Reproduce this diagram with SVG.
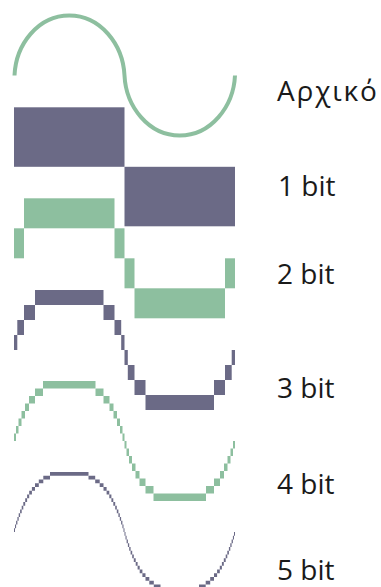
<svg xmlns="http://www.w3.org/2000/svg" xmlns:xlink="http://www.w3.org/1999/xlink" width="381" height="587" viewBox="0 0 381 587">
  <style>
    .green { fill: #8dbf9f; }
    .purple { fill: #6b6a86; }
    .wave { fill: none; stroke: #8dbf9f; stroke-width: 4; stroke-linecap: butt; }
    .label { font-family: "Open Sans", "Noto Sans", "DejaVu Sans", sans-serif; font-size: 28px; fill: #1a1a1a; }
  </style>
  <defs>
    <!-- Left staircase of one positive half-cycle, local coords: x 0..110.5, y 0 (mid) .. -60 (peak) -->
    <path id="st2" d="M0,-30H10V0H0Z"/>
    <path id="st3" d="M0,-15H3.3V0H0Z M3.3,-30H10V-15H3.3Z M10,-45H21V-30H10Z"/>
    <path id="st4" d="M0,-7.5H2V0H0Z M2,-15H4.5V-7.5H2Z M4.5,-22.5H7.5V-15H4.5Z M7.5,-30H11V-22.5H7.5Z M11,-37.5H15V-30H11Z M15,-45H21V-37.5H15Z M21,-52.5H29V-45H21Z"/>
    <path id="st5" d="M0,-3.75H1V0H0Z M1,-7.5H2.1V-3.75H1Z M2.1,-11.25H3.4V-7.5H2.1Z M3.4,-15H4.7V-11.25H3.4Z M4.7,-18.75H6.1V-15H4.7Z M6.1,-22.5H7.7V-18.75H6.1Z M7.7,-26.25H9.3V-22.5H7.7Z M9.3,-30H11.2V-26.25H9.3Z M11.2,-33.75H13.1V-30H11.2Z M13.1,-37.5H15.2V-33.75H13.1Z M15.2,-41.25H17.9V-37.5H15.2Z M17.9,-45H21V-41.25H17.9Z M21,-48.75H24.8V-45H21Z M24.8,-52.5H29.3V-48.75H24.8Z M29.3,-56.25H36V-52.5H29.3Z"/>

    <!-- Full positive half-cycles: staircase, its mirror, and the top bar -->
    <g id="h1"><rect x="0" y="-59.5" width="110.5" height="59.5"/></g>
    <g id="h2"><use xlink:href="#st2"/><use xlink:href="#st2" transform="matrix(-1 0 0 1 110.5 0)"/><rect x="10" y="-60" width="90.5" height="30"/></g>
    <g id="h3"><use xlink:href="#st3"/><use xlink:href="#st3" transform="matrix(-1 0 0 1 110.5 0)"/><rect x="21" y="-60" width="68.5" height="15"/></g>
    <g id="h4"><use xlink:href="#st4"/><use xlink:href="#st4" transform="matrix(-1 0 0 1 110.5 0)"/><rect x="29" y="-60" width="52.5" height="7.5"/></g>
    <g id="h5"><use xlink:href="#st5"/><use xlink:href="#st5" transform="matrix(-1 0 0 1 110.5 0)"/><rect x="36" y="-60" width="38.5" height="3.75"/></g>
  </defs>

  <!-- Analog signal -->
  <g id="original">
    <path class="wave" d="M14.5,75.5 C15.8,44.5 38,15.5 69.25,15.5 C100.5,15.5 123,44.5 124.5,75.5 C126,106.5 148.5,135.5 179.75,135.5 C211,135.5 233.5,106.5 235,75.5"/>
    <text class="label" x="277" y="101" letter-spacing="1.8">Αρχικό</text>
  </g>

  <!-- Quantised versions, each drawn as positive half + flipped negative half -->
  <g id="bit1">
    <g class="purple" transform="translate(14 166.8)"><use xlink:href="#h1"/><use xlink:href="#h1" transform="matrix(1 0 0 -1 110.5 0)"/></g>
    <text class="label" x="278" y="196">1 bit</text>
  </g>
  <g id="bit2">
    <g class="green" transform="translate(14 258.3)"><use xlink:href="#h2"/><use xlink:href="#h2" transform="matrix(1 0 0 -1 110.5 0)"/></g>
    <text class="label" x="277" y="284">2 bit</text>
  </g>
  <g id="bit3">
    <g class="purple" transform="translate(14 350)"><use xlink:href="#h3"/><use xlink:href="#h3" transform="matrix(1 0 0 -1 110.5 0)"/></g>
    <text class="label" x="277" y="398">3 bit</text>
  </g>
  <g id="bit4">
    <g class="green" transform="translate(14 441)"><use xlink:href="#h4"/><use xlink:href="#h4" transform="matrix(1 0 0 -1 110.5 0)"/></g>
    <text class="label" x="277" y="494">4 bit</text>
  </g>
  <g id="bit5">
    <g class="purple" transform="translate(14 532)"><use xlink:href="#h5"/><use xlink:href="#h5" transform="matrix(1 0 0 -1 110.5 0)"/></g>
    <text class="label" x="277" y="580">5 bit</text>
  </g>
</svg>
